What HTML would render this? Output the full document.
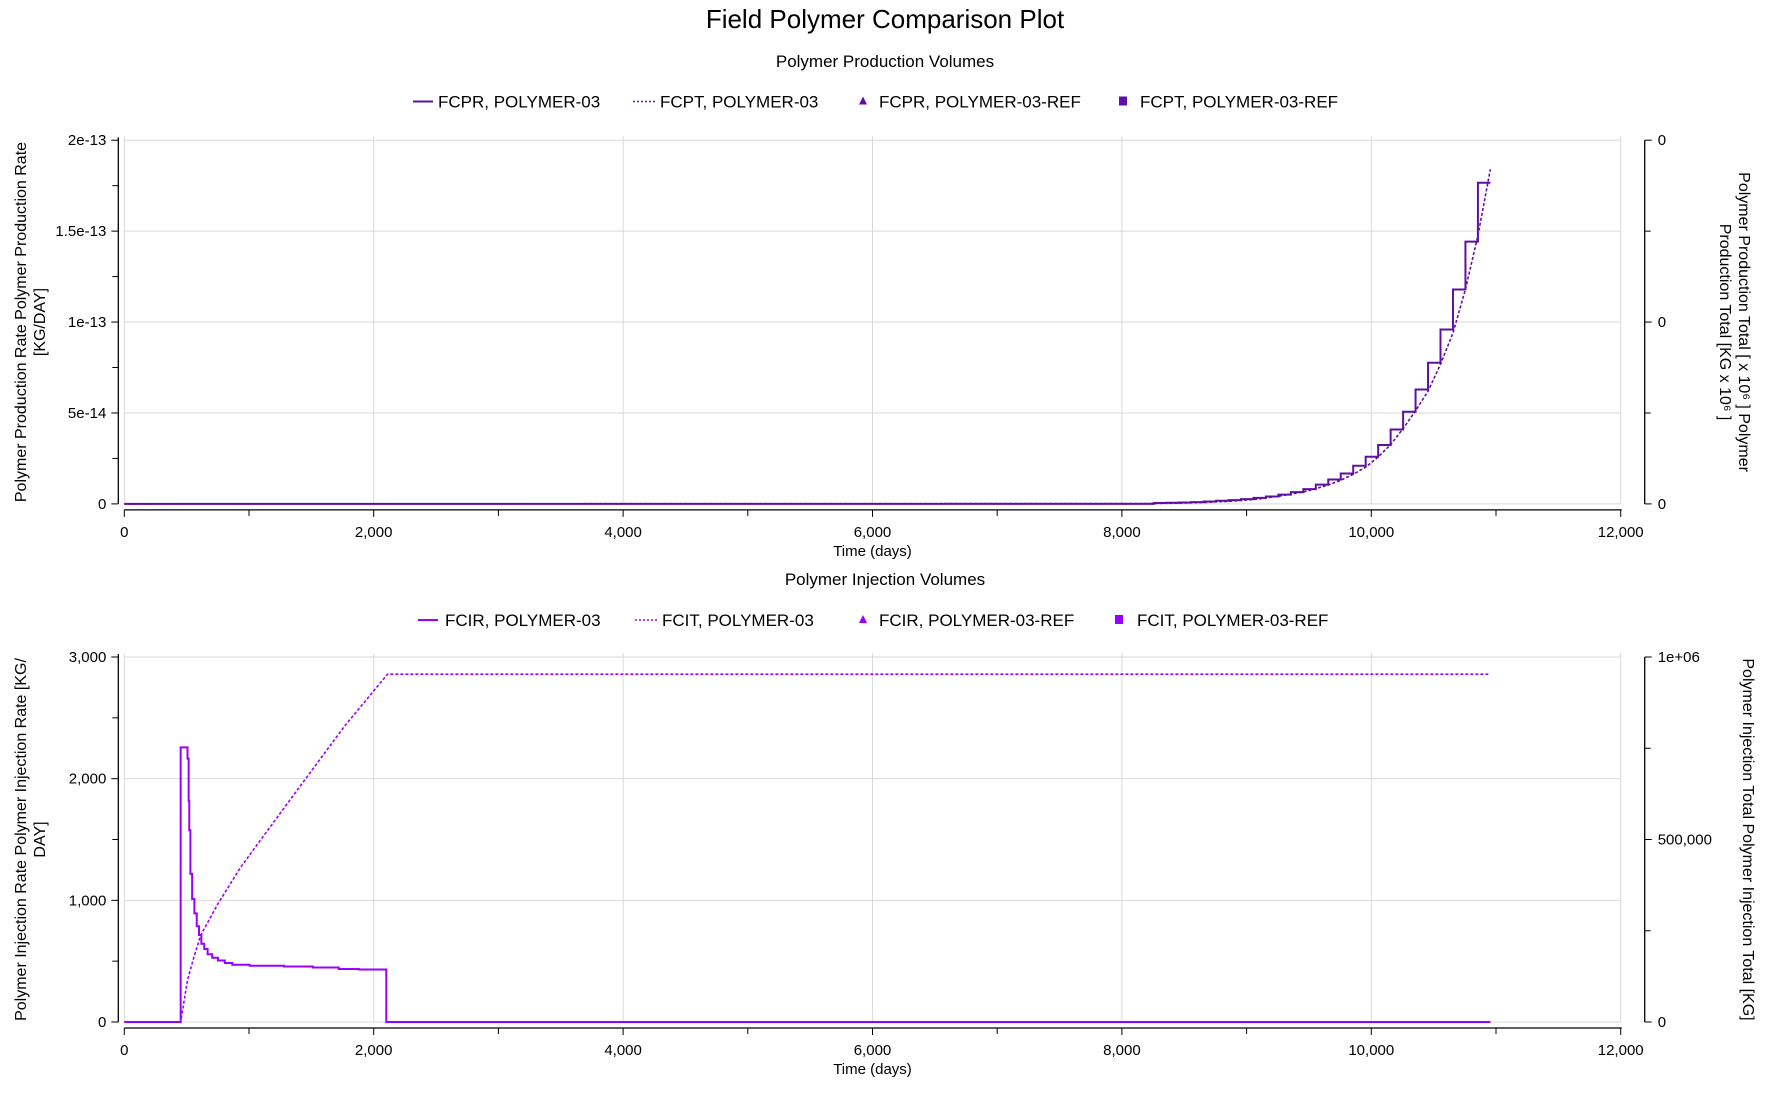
<!DOCTYPE html>
<html><head><meta charset="utf-8"><style>
html,body{margin:0;padding:0;background:#fff;}
svg{display:block;font-family:"Liberation Sans",sans-serif;}
</style></head><body>
<svg id="chart" width="1788" height="1107" viewBox="0 0 1788 1107">
<text x="885" y="28" text-anchor="middle" font-size="26" fill="#000">Field Polymer Comparison Plot</text>
<text x="885" y="67" text-anchor="middle" font-size="17">Polymer Production Volumes</text>
<text x="885" y="585" text-anchor="middle" font-size="17">Polymer Injection Volumes</text>
<g id="top"></g>
<g id="bot"></g>
</svg>
<script>
// ---- Production panel data ----
const prodRateDays = [8255,8355,8455,8555,8655,8755,8855,8955,9055,9155,9255,9355,9455,9555,9655,9755,9855,9955,10055,10155,10255,10355,10455,10555,10655,10755,10855];
const prodRateVals = [0.005e-13,0.006e-13,0.008e-13,0.010e-13,0.013e-13,0.017e-13,0.021e-13,0.026e-13,0.033e-13,0.041e-13,0.051e-13,0.065e-13,0.081e-13,0.106e-13,0.134e-13,0.167e-13,0.210e-13,0.259e-13,0.324e-13,0.409e-13,0.507e-13,0.629e-13,0.776e-13,0.959e-13,1.179e-13,1.442e-13,1.766e-13];
const prodEndDay = 10955;
const prodTotDays = [0,8255,8455,8655,8855,9055,9255,9355,9455,9555,9655,9755,9855,9955,10055,10155,10255,10355,10455,10555,10655,10755,10855,10955];
const prodTotVals = [0,0.002,0.004,0.008,0.014,0.024,0.042,0.054,0.066,0.084,0.104,0.13,0.163,0.202,0.258,0.326,0.414,0.512,0.62,0.768,0.94,1.18,1.476,1.84];
const prodLeftTicks = [0,5e-14,1e-13,1.5e-13,2e-13];
const prodLeftLabels = ["0","5e-14","1e-13","1.5e-13","2e-13"];
const prodRightTicks = [0,1,2];
const prodRightLabels = ["0","0","0"];
// ---- Injection panel data ----
const injRateDays = [0,452,507,516,521,530,544,562,581,599,618,641,668,705,751,806,866,1005,1281,1512,1719,1880,2101,2111];
const injRateVals = [0,2257,2165,1820,1576,1217,1011,893,787,715,643,600,557,528,505,485,471,462,456,448,436,431,0,0];
const injEndDay = 10955;
const injTotDays = [0,452,507,560,613,751,935,1304,1765,2111,10955];
const injTotVals = [0,0,115000,180000,238000,324000,425000,597000,810000,953000,953000];
const injLeftTicks = [0,1000,2000,3000];
const injLeftLabels = ["0","1,000","2,000","3,000"];
const injRightTicks = [0,500000,1000000];
const injRightLabels = ["0","500,000","1e+06"];
// ---- shared x axis ----
const xTicks = [0,2000,4000,6000,8000,10000,12000];
const xLabels = ["0","2,000","4,000","6,000","8,000","10,000","12,000"];

const NS="http://www.w3.org/2000/svg";
function mk(parent,tag,attrs){const e=document.createElementNS(NS,tag);for(const k in attrs)e.setAttribute(k,attrs[k]);parent.appendChild(e);return e;}
const X0=124.3, X1=1620.7;
function xS(d){return X0+d/12000*(X1-X0);}

function panel(g,cfg){
  const T=cfg.top,B=cfg.bottom;
  const yL=v=>B-(v-cfg.lmin)/(cfg.lmax-cfg.lmin)*(B-T);
  const yR=v=>B-(v-cfg.rmin)/(cfg.rmax-cfg.rmin)*(B-T);
  for(let i=0;i<xTicks.length;i++){
    const l=mk(g,'line',{x1:xS(xTicks[i]),x2:xS(xTicks[i]),y1:T-4,y2:B,stroke:'#d9d9d9','stroke-width':1});
    
    
  }
  for(let i=0;i<cfg.lt.length;i++){
    const l=mk(g,'line',{x1:X0,x2:X1,y1:yL(cfg.lt[i]),y2:yL(cfg.lt[i]),stroke:'#d9d9d9','stroke-width':1});
    
    
  }
  const ax=B+6;
  const xa=mk(g,'line',{x1:X0,x2:X1+1,y1:ax,y2:ax,stroke:'#000','stroke-width':1.3});
  
  
  for(let d=0;d<=12000;d+=1000){
    mk(g,'line',{x1:xS(d),x2:xS(d),y1:ax,y2:ax+(d%2000===0?7:6),stroke:'#000','stroke-width':1});
  }
  for(let i=0;i<xTicks.length;i++){
    const t=mk(g,'text',{x:xS(xTicks[i]),y:ax+27,'text-anchor':'middle','font-size':15});
    t.textContent=xLabels[i];
    
    
  }
  const xt=mk(g,'text',{x:(X0+X1)/2,y:ax+46,'text-anchor':'middle','font-size':15});
  xt.textContent='Time (days)';
  
  
  const lx=X0-6;
  const la=mk(g,'line',{x1:lx,x2:lx,y1:T-3,y2:B,stroke:'#000','stroke-width':1.3});
  
  
  for(let i=0;i<cfg.lt.length;i++){
    mk(g,'line',{x1:lx-7,x2:lx,y1:yL(cfg.lt[i]),y2:yL(cfg.lt[i]),stroke:'#000'});
    if(i<cfg.lt.length-1){const m=(cfg.lt[i]+cfg.lt[i+1])/2;mk(g,'line',{x1:lx-6,x2:lx,y1:yL(m),y2:yL(m),stroke:'#000'});}
    const t=mk(g,'text',{x:lx-12,y:yL(cfg.lt[i])+5,'text-anchor':'end','font-size':15});
    t.textContent=cfg.ll[i];
    
    
  }
  const rx=X1+24;
  const ra=mk(g,'line',{x1:rx,x2:rx,y1:T,y2:B,stroke:'#000','stroke-width':1.3});
  
  
  for(let i=0;i<cfg.rt.length;i++){
    mk(g,'line',{x1:rx,x2:rx+7,y1:yR(cfg.rt[i]),y2:yR(cfg.rt[i]),stroke:'#000'});
    if(i<cfg.rt.length-1){const m=(cfg.rt[i]+cfg.rt[i+1])/2;mk(g,'line',{x1:rx,x2:rx+6,y1:yR(m),y2:yR(m),stroke:'#000'});}
    const t=mk(g,'text',{x:rx+13,y:yR(cfg.rt[i])+5,'text-anchor':'start','font-size':15});
    t.textContent=cfg.rl[i];
    
    
  }
  const cy=(T+B)/2;
  cfg.leftTitle.forEach((s,i)=>{
    const t=mk(g,'text',{x:0,y:0,'text-anchor':'middle','font-size':16,transform:`translate(${26+i*19},${cy}) rotate(-90)`});
    t.textContent=s;
    
    
  });
  cfg.rightTitle.forEach((s,i)=>{
    const t=mk(g,'text',{x:0,y:0,'text-anchor':'middle','font-size':16,transform:`translate(${cfg.rtx - i*19},${cy}) rotate(90)`});
    t.textContent=s;
    
    
  });
  let d='M'+xS(0)+','+yL(0);
  for(let i=0;i<cfg.rd.length;i++){
    d+=' H'+xS(cfg.rd[i])+' V'+yL(cfg.rv[i]);
  }
  d+=' H'+xS(cfg.end);
  const p=mk(g,'path',{d:d,fill:'none',stroke:cfg.color,'stroke-width':2});
  
  
  let d2='';
  for(let i=0;i<cfg.td.length;i++){d2+=(i?' L':'M')+xS(cfg.td[i])+','+yR(cfg.tv[i]);}
  const p2=mk(g,'path',{d:d2,fill:'none',stroke:cfg.color,'stroke-width':1.6,'stroke-dasharray':'3,2'});
  
  
  const ly=cfg.ly, lg=mk(g,'g',{});
  
  
  cfg.legend.forEach(it=>{
    if(it.type==='line')mk(lg,'line',{x1:it.mx,x2:it.mx+20,y1:ly,y2:ly,stroke:cfg.color,'stroke-width':2});
    if(it.type==='dot')mk(lg,'line',{x1:it.mx,x2:it.mx+22,y1:ly,y2:ly,stroke:cfg.color,'stroke-width':1.5,'stroke-dasharray':'2,2'});
    if(it.type==='tri')mk(lg,'path',{d:`M${it.mx-4},${ly+3} L${it.mx+4},${ly+3} L${it.mx},${ly-5} Z`,fill:cfg.color});
    if(it.type==='sq')mk(lg,'rect',{x:it.mx-4,y:ly-5,width:8,height:9,fill:cfg.color});
    const t=mk(lg,'text',{x:it.tx,y:ly+6,'font-size':17});
    t.textContent=it.label;
    
    
  });
}
panel(document.getElementById('top'),{
  top:140.2,bottom:503.9,lmin:0,lmax:2e-13,rmin:0,rmax:2,
  lt:prodLeftTicks,ll:prodLeftLabels,rt:prodRightTicks,rl:prodRightLabels,
  rd:prodRateDays,rv:prodRateVals,end:prodEndDay,td:prodTotDays,tv:prodTotVals,
  color:'#5f0fa3',ly:101.5,rtx:1739,
  leftTitle:['Polymer Production Rate Polymer Production Rate','[KG/DAY]'],
  rightTitle:['Polymer Production Total [ x 10\u2076 ] Polymer','Production Total [KG x 10\u2076 ]'],
  legend:[{type:'line',mx:413,tx:438,label:'FCPR, POLYMER-03'},{type:'dot',mx:633,tx:660,label:'FCPT, POLYMER-03'},{type:'tri',mx:863,tx:879,label:'FCPR, POLYMER-03-REF'},{type:'sq',mx:1123,tx:1140,label:'FCPT, POLYMER-03-REF'}]
});
panel(document.getElementById('bot'),{
  top:657,bottom:1022,lmin:0,lmax:3000,rmin:0,rmax:1000000,
  lt:injLeftTicks,ll:injLeftLabels,rt:injRightTicks,rl:injRightLabels,
  rd:injRateDays,rv:injRateVals,end:injEndDay,td:injTotDays,tv:injTotVals,
  color:'#9a00ff',ly:620,rtx:1743,
  leftTitle:['Polymer Injection Rate Polymer Injection Rate [KG/','DAY]'],
  rightTitle:['Polymer Injection Total Polymer Injection Total [KG]'],
  legend:[{type:'line',mx:418,tx:445,label:'FCIR, POLYMER-03'},{type:'dot',mx:635,tx:662,label:'FCIT, POLYMER-03'},{type:'tri',mx:863,tx:879,label:'FCIR, POLYMER-03-REF'},{type:'sq',mx:1119,tx:1137,label:'FCIT, POLYMER-03-REF'}]
});
</script>
</body></html>
